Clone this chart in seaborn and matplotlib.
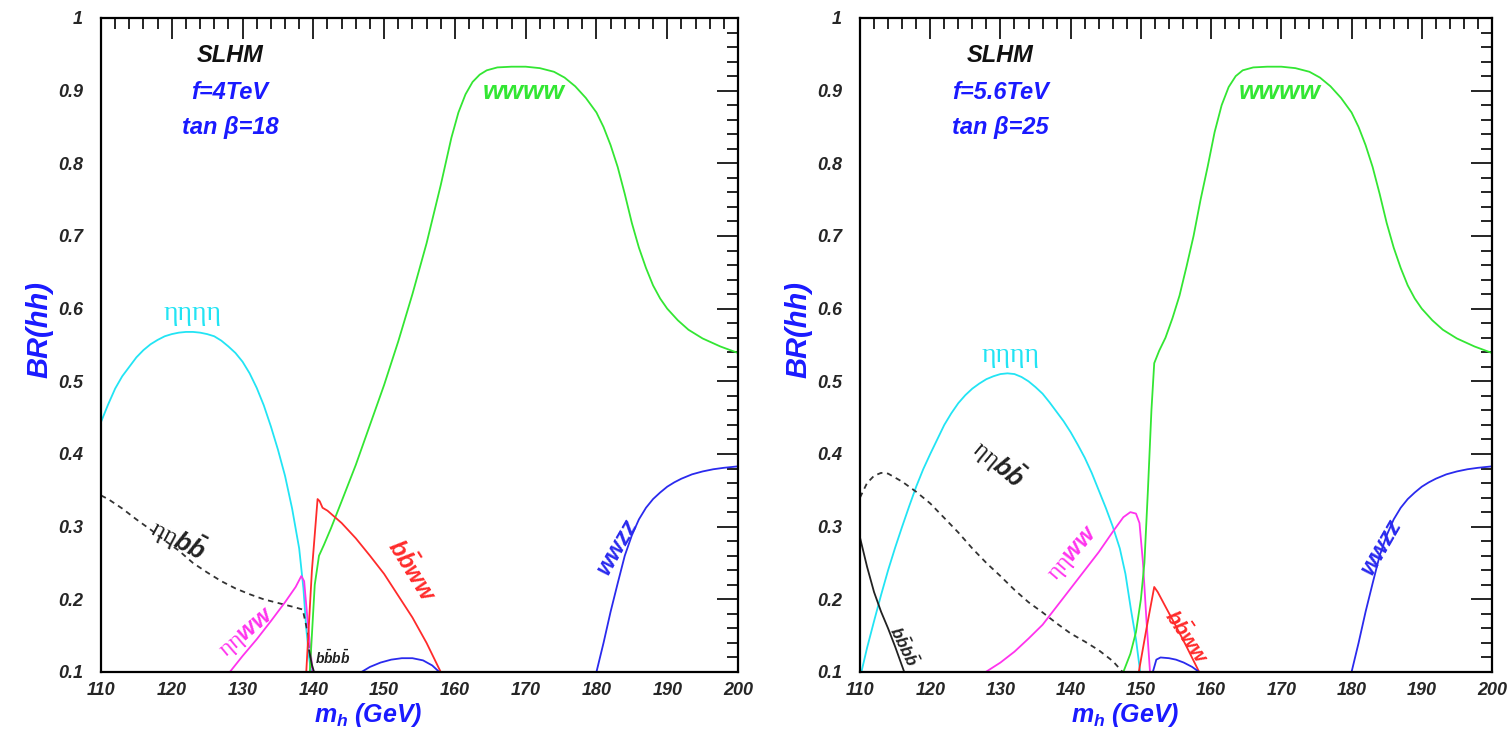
import matplotlib
matplotlib.use("Agg")
import matplotlib.pyplot as plt
import seaborn as sns
from matplotlib.ticker import MultipleLocator

# ---------------- data: left panel (f=4TeV, tan beta=18) ----------------
L_eta4_x = [110, 111, 112, 113, 114, 115, 116, 117, 118, 119, 120, 121, 122, 123, 124, 125, 126, 127, 128, 129, 130, 131, 132, 133, 134, 135, 136, 137, 138, 138.6, 139.0, 139.4, 139.7]
L_eta4_y = [0.444, 0.468, 0.49, 0.507, 0.52, 0.533, 0.543, 0.551, 0.557, 0.562, 0.565, 0.567, 0.568, 0.568, 0.567, 0.565, 0.562, 0.556, 0.548, 0.539, 0.527, 0.511, 0.491, 0.467, 0.438, 0.406, 0.37, 0.325, 0.27, 0.215, 0.16, 0.12, 0.1]

L_etabb_x = [110, 111, 113, 115, 117, 119, 121, 123, 125, 127, 129, 131, 133, 135, 137, 138.5, 139.3, 139.8]
L_etabb_y = [0.343, 0.338, 0.325, 0.31, 0.296, 0.281, 0.267, 0.25, 0.237, 0.225, 0.215, 0.207, 0.2, 0.195, 0.19, 0.186, 0.15, 0.1]

L_etaww_x = [128.2, 130, 132, 134, 136, 137.5, 138.3, 138.7, 139.2, 139.9]
L_etaww_y = [0.1, 0.122, 0.145, 0.17, 0.196, 0.217, 0.232, 0.225, 0.17, 0.1]

L_bbww_x = [139.0, 139.8, 140.6, 140.9, 141.3, 142, 144, 146, 148, 150, 152, 154, 156, 158]
L_bbww_y = [0.1, 0.24, 0.338, 0.335, 0.326, 0.322, 0.305, 0.284, 0.26, 0.235, 0.205, 0.175, 0.14, 0.1]

L_bbbb_x = [139.4, 139.8, 140.1]
L_bbbb_y = [0.13, 0.11, 0.1]

L_wwww_x = [139.5, 140.2, 140.8, 141.5, 142.5, 144, 146, 148, 150, 152, 154, 156, 158, 159.5, 160.5, 161.5, 162.5, 163.5, 164.5, 166, 168, 170, 172,
            174, 175.5, 177, 178.5, 180, 181, 182, 183, 184, 185, 186, 187, 188, 189, 190, 191.5, 193, 195, 197.5, 200]
L_wwww_y = [0.1, 0.22, 0.26, 0.275, 0.298, 0.335, 0.385, 0.44, 0.495, 0.555, 0.62, 0.69, 0.77, 0.835, 0.87, 0.895, 0.912, 0.922, 0.928, 0.932, 0.933, 0.933, 0.931,
            0.926, 0.918, 0.906, 0.89, 0.87, 0.85, 0.825, 0.795, 0.758, 0.718, 0.684, 0.656, 0.632, 0.614, 0.6, 0.584, 0.571, 0.559, 0.548, 0.539]

L_wwzz_lo_x = [146.8, 148, 149.5, 151, 152.5, 154, 155.5, 156.8, 157.8]
L_wwzz_lo_y = [0.1, 0.107, 0.113, 0.117, 0.119, 0.119, 0.116, 0.109, 0.1]

L_wwzz_x = [180, 181, 182, 183, 184, 185, 186, 187, 188, 189, 190, 191, 192, 193.5, 195, 196.5, 198, 200]
L_wwzz_y = [0.1, 0.14, 0.183, 0.222, 0.26, 0.288, 0.31, 0.326, 0.338, 0.347, 0.355, 0.361, 0.366, 0.372, 0.376, 0.379, 0.381, 0.383]

# ---------------- data: right panel (f=5.6TeV, tan beta=25) ----------------
R_eta4_x = [110.2, 111, 112, 113, 114, 115, 116, 117, 118, 119, 120, 121, 122, 123, 124, 125, 126, 127, 128, 129, 130, 131, 132, 133, 134, 135, 136, 137, 138,
            139, 140, 141, 142, 143, 144, 145, 146, 147, 147.8, 148.6, 149.3, 149.9]
R_eta4_y = [0.1, 0.133, 0.17, 0.206, 0.24, 0.271, 0.3, 0.328, 0.355, 0.379, 0.4, 0.42, 0.44, 0.456, 0.47, 0.481, 0.49, 0.497, 0.503, 0.507, 0.51, 0.511, 0.51, 0.506, 0.5, 0.492, 0.483, 0.471, 0.458,
            0.445, 0.43, 0.413, 0.395, 0.374, 0.35, 0.326, 0.3, 0.27, 0.235, 0.185, 0.145, 0.1]

R_etabb_x = [110, 111, 112, 113, 114, 116, 118, 120, 122, 124, 126, 128, 130, 132, 134, 136, 138, 140, 142, 144, 146, 147.4]
R_etabb_y = [0.34, 0.36, 0.37, 0.374, 0.373, 0.362, 0.348, 0.332, 0.312, 0.292, 0.27, 0.25, 0.232, 0.213, 0.196, 0.182, 0.167, 0.153, 0.142, 0.13, 0.115, 0.1]

R_bbbb_x = [110, 111, 112, 113, 114, 115, 116.3]
R_bbbb_y = [0.285, 0.245, 0.21, 0.183, 0.16, 0.135, 0.1]

R_etaww_x = [127.9, 130, 132, 134, 136, 138, 140, 142, 144, 146, 147.5, 148.5, 149.3, 149.8, 150.3, 150.8, 151.3]
R_etaww_y = [0.1, 0.113, 0.128, 0.146, 0.165, 0.19, 0.215, 0.24, 0.265, 0.293, 0.313, 0.32, 0.318, 0.305, 0.25, 0.17, 0.1]

R_wwww_x = [147.5, 148.5, 149.3, 150.0, 150.5, 151.0, 151.5, 151.9, 152.6, 153.5, 154.5, 155.5, 156.5, 157.5, 158.5, 159.5, 160.5, 161.5, 162.5,
            163.5, 164.5, 166, 168, 170, 172, 174, 175.5, 177, 178.5, 180, 181, 182, 183, 184, 185, 186, 187, 188, 189, 190, 191.5, 193, 195, 197.5, 200]
R_wwww_y = [0.1, 0.125, 0.155, 0.2, 0.25, 0.35, 0.46, 0.525, 0.542, 0.56, 0.587, 0.618, 0.658, 0.70, 0.75, 0.795, 0.843, 0.88, 0.905,
            0.92, 0.928, 0.932, 0.933, 0.933, 0.931, 0.926, 0.918, 0.906, 0.89, 0.87, 0.85, 0.825, 0.795, 0.758, 0.718, 0.684, 0.656, 0.632, 0.614, 0.6, 0.584, 0.571, 0.559, 0.548, 0.539]

R_bbww_x = [149.7, 150.8, 151.9, 152.4, 153.5, 155, 156.5, 158.3]
R_bbww_y = [0.1, 0.16, 0.217, 0.21, 0.19, 0.163, 0.135, 0.1]

R_wwzz_lo_x = [151.7, 152.2, 152.8, 154, 155, 156.1, 157.3, 158.3]
R_wwzz_lo_y = [0.1, 0.117, 0.12, 0.119, 0.117, 0.113, 0.107, 0.1]

R_wwzz_x = [180, 181, 182, 183, 184, 185, 186, 187, 188, 189, 190, 191, 192, 193.5, 195, 196.5, 198, 200]
R_wwzz_y = [0.1, 0.14, 0.183, 0.222, 0.26, 0.288, 0.31, 0.326, 0.338, 0.347, 0.355, 0.361, 0.366, 0.372, 0.376, 0.379, 0.381, 0.383]

x_ticks = [110, 120, 130, 140, 150, 160, 170, 180, 190, 200]
x_tick_labels = ["110", "120", "130", "140", "150", "160", "170", "180", "190", "200"]
y_ticks = [0.1, 0.2, 0.3, 0.4, 0.5, 0.6, 0.7, 0.8, 0.9, 1.0]
y_tick_labels = ["0.1", "0.2", "0.3", "0.4", "0.5", "0.6", "0.7", "0.8", "0.9", "1"]

panel_params = [("f=4TeV", "tan β=18"), ("f=5.6TeV", "tan β=25")]

# ---------------- style ----------------
sns.set_theme(style="white")
plt.rcParams["font.family"] = ["Liberation Sans", "DejaVu Sans"]
plt.rcParams["mathtext.fontset"] = "custom"
plt.rcParams["mathtext.it"] = "Liberation Sans:italic:bold"
plt.rcParams["mathtext.rm"] = "Liberation Sans:bold"
plt.rcParams["mathtext.bf"] = "Liberation Sans:bold"

C_CYAN = "#22e4f4"
C_GREEN = "#33e633"
C_RED = "#ff2b2b"
C_MAG = "#ff33ee"
C_BLUE = "#2a2aee"
C_TXTBLUE = "#1a1aff"

fig = plt.figure(figsize=(15.09, 7.33), dpi=100)
W, H = 1509, 733
axL = fig.add_axes([101 / W, (H - 672) / H, (738 - 101) / W, (672 - 18) / H])
axR = fig.add_axes([860 / W, (H - 672) / H, (1492 - 860) / W, (672 - 18) / H])

LW = 1.3


def line(ax, x, y, color, ls="-"):
    sns.lineplot(x=x, y=y, ax=ax, color=color, lw=LW, sort=False, estimator=None,
                 legend=False, linestyle=ls)


# left curves
line(axL, L_eta4_x, L_eta4_y, C_CYAN)
line(axL, L_etabb_x, L_etabb_y, "#333333", (0, (3, 2.5)))
line(axL, L_etaww_x, L_etaww_y, C_MAG)
line(axL, L_wwww_x, L_wwww_y, C_GREEN)
line(axL, L_bbww_x, L_bbww_y, C_RED)
line(axL, L_bbbb_x, L_bbbb_y, "#222222")
line(axL, L_wwzz_lo_x, L_wwzz_lo_y, C_BLUE)
line(axL, L_wwzz_x, L_wwzz_y, C_BLUE)

# right curves
line(axR, R_eta4_x, R_eta4_y, C_CYAN)
line(axR, R_etabb_x, R_etabb_y, "#333333", (0, (3, 2.5)))
line(axR, R_bbbb_x, R_bbbb_y, "#222222")
line(axR, R_etaww_x, R_etaww_y, C_MAG)
line(axR, R_wwww_x, R_wwww_y, C_GREEN)
line(axR, R_bbww_x, R_bbww_y, C_RED)
line(axR, R_wwzz_lo_x, R_wwzz_lo_y, C_BLUE)
line(axR, R_wwzz_x, R_wwzz_y, C_BLUE)

for ax, (ftxt, ttxt) in zip([axL, axR], panel_params):
    ax.set_xlim(110, 200)
    ax.set_ylim(0.1, 1.0)
    ax.set_xticks(x_ticks, x_tick_labels, fontsize=13, fontweight="bold", fontstyle="italic")
    ax.set_yticks(y_ticks, y_tick_labels, fontsize=13, fontweight="bold", fontstyle="italic")
    ax.xaxis.set_minor_locator(MultipleLocator(2))
    ax.yaxis.set_minor_locator(MultipleLocator(0.02))
    ax.tick_params(which="both", direction="in", top=True, right=True, color="black", width=1.2)
    ax.tick_params(which="major", length=15)
    ax.tick_params(which="minor", length=8)
    ax.tick_params(axis="y", which="major", pad=13)
    ax.tick_params(axis="x", which="major", pad=7)
    for sp in ax.spines.values():
        sp.set_color("black")
        sp.set_linewidth(1.6)
    ax.set_ylabel("BR(hh)", fontsize=21, fontweight="bold", fontstyle="italic", color=C_TXTBLUE)
    ax.yaxis.set_label_coords(-0.075, 0.523)
    ax.set_xlabel("$m_h$ (GeV)", fontsize=18, fontweight="bold", fontstyle="italic", color=C_TXTBLUE)
    ax.xaxis.set_label_coords(0.42, -0.045)
    ax.set_facecolor("white")

# panel annotations
TXT_B = dict(fontweight="bold", fontstyle="italic", ha="center", va="center")
axL.text(128.2, 0.949, "SLHM", fontsize=17, color="#111111", **TXT_B)
axL.text(128.2, 0.898, panel_params[0][0], fontsize=17, color=C_TXTBLUE, **TXT_B)
axL.text(128.2, 0.849, panel_params[0][1], fontsize=17, color=C_TXTBLUE, **TXT_B)
axR.text(130.0, 0.949, "SLHM", fontsize=17, color="#111111", **TXT_B)
axR.text(130.0, 0.898, panel_params[1][0], fontsize=17, color=C_TXTBLUE, **TXT_B)
axR.text(130.0, 0.849, panel_params[1][1], fontsize=17, color=C_TXTBLUE, **TXT_B)

SER = dict(family=["Liberation Serif", "DejaVu Serif"], ha="center", va="center")
# left labels
axL.text(123.0, 0.594, "ηηηη", fontsize=20, color=C_CYAN, **SER)
axL.text(169.7, 0.898, "wwww", fontsize=19, color=C_GREEN, **TXT_B)
axL.text(120.9, 0.283, r"ηη$b\bar{b}$", fontsize=18, color="#222222", rotation=-28, **SER)
axL.text(130.8, 0.152, r"ηη$ww$", fontsize=17, color=C_MAG, rotation=40, **SER)
axL.text(154.0, 0.24, r"$b\bar{b}ww$", fontsize=17, color=C_RED, rotation=-58, ha="center", va="center")
axL.text(142.8, 0.12, r"$b\bar{b}b\bar{b}$", fontsize=10, color="#222222", ha="center", va="center")
axL.text(183.0, 0.272, "wwzz", fontsize=17, color=C_BLUE, rotation=60, **TXT_B)
# right labels
axR.text(131.4, 0.535, "ηηηη", fontsize=20, color=C_CYAN, **SER)
axR.text(169.8, 0.898, "wwww", fontsize=19, color=C_GREEN, **TXT_B)
axR.text(129.8, 0.388, r"ηη$b\bar{b}$", fontsize=18, color="#222222", rotation=-40, **SER)
axR.text(116.3, 0.135, r"$b\bar{b}b\bar{b}$", fontsize=12, color="#222222", rotation=-64, ha="center", va="center")
axR.text(140.5, 0.262, r"ηη$ww$", fontsize=17, color=C_MAG, rotation=49, **SER)
axR.text(156.6, 0.148, r"$b\bar{b}ww$", fontsize=15, color=C_RED, rotation=-56, ha="center", va="center")
axR.text(184.3, 0.272, "wwzz", fontsize=17, color=C_BLUE, rotation=60, **TXT_B)

fig.savefig("out.png", dpi=100, facecolor="white")
